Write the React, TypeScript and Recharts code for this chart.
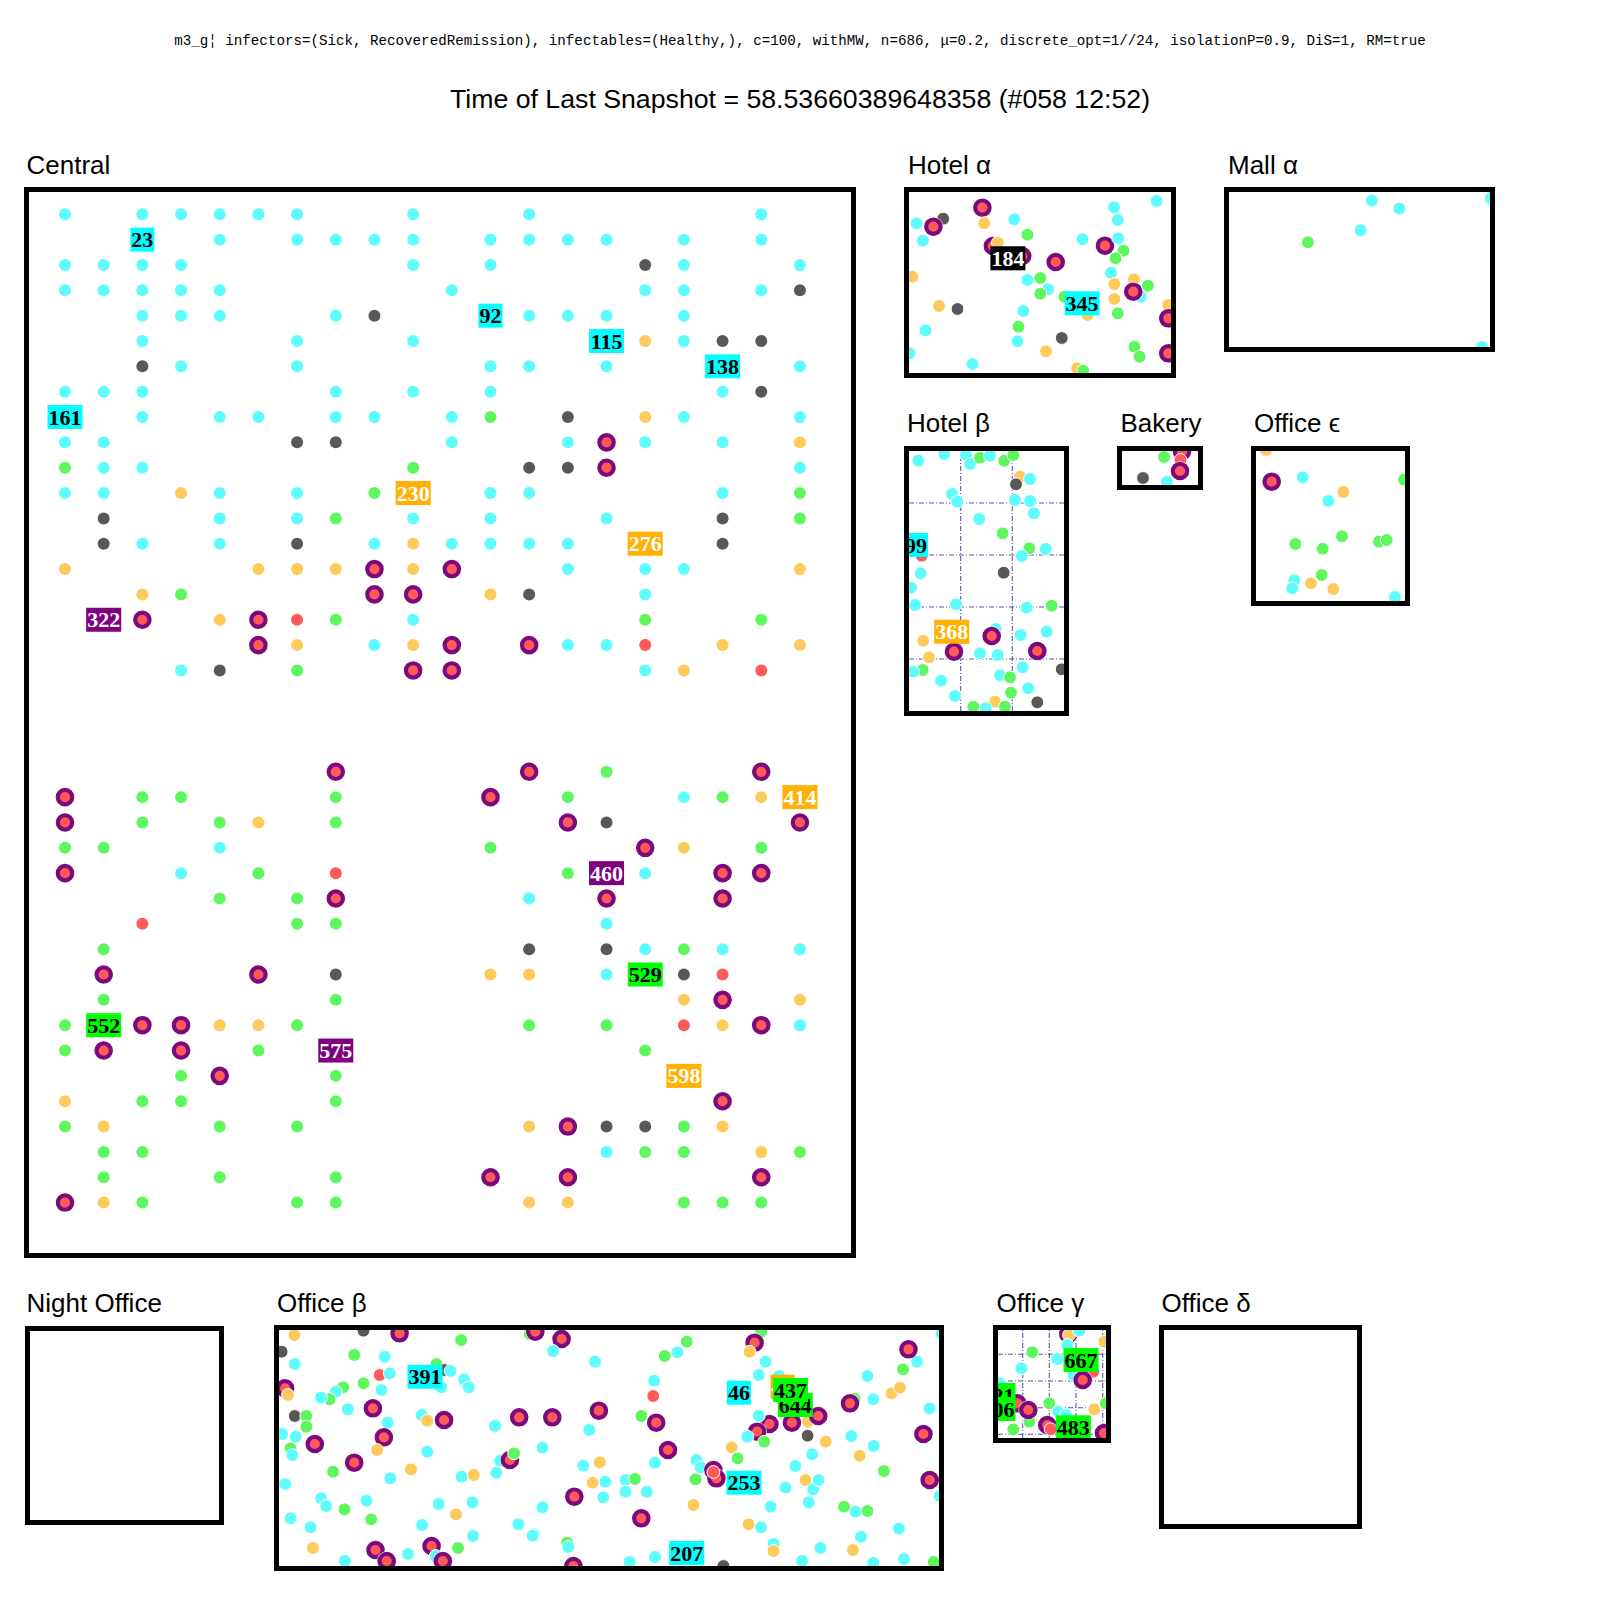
import React from "react";
import { ScatterChart, Scatter, XAxis, YAxis, ReferenceLine } from "recharts";

// ---------- text ----------
const SUBTITLE =
  "m3_g¦ infectors=(Sick, RecoveredRemission), infectables=(Healthy,), c=100, withMW, n=686, μ=0.2, discrete_opt=1//24, isolationP=0.9, DiS=1, RM=true";
const TITLE = "Time of Last Snapshot = 58.53660389648358 (#058 12:52)";

// ---------- Central grid (H healthy, G recovered, O exposed, K dead, R infected, S sick, L label) ----------
const centralRows = [
  "H.HHHHH..H..H.....H.",
  "..L.H.HHHH.HHHH.H.H.",
  "HHHH.....H.H...KH..H",
  "HHHHH.....H....HH.HK",
  "..HHH..HK..LHHH.H...",
  "..H...H..H....LOHKK.",
  "..KH..H....HH.H..L.H",
  "HHH....H.H.H.....HK.",
  "L.H.HH.HH.HG.K.OH..H",
  "HH....KK..H..HSH.H.O",
  "GHH......G..KKS....H",
  "HH.OH.H.GL.HH....H.G",
  ".K..H.HG.H.H..H..K.G",
  ".KH.H.K.HOHHHH.L.K..",
  "O....OOOSOS..H.HH..O",
  "..OG....SS.OK..H....",
  ".LS.OSRG.H.....G..G.",
  ".....SO.HOS.SHHR.O.O",
  "...HK.G..SS....HO.R.",
  "....................",
  "....................",
  "....................",
  ".......S....S.G...S.",
  "S.GG...G...S.G..HGOL",
  "S.G.GO.G.....SK....S",
  "GG..H......G...SO.G.",
  "S..H.G.R.....GLH.SS.",
  "....G.GS....H.S..S..",
  "..R...GG......H.....",
  ".G..........K.KHGH.H",
  ".S...S.K...OO.HLKR..",
  ".G.....G........OS.O",
  "GLSSOOG.....G.G.ROSH",
  "GS.S.G.L.......G....",
  "...GS..G........L...",
  "O.GG...G.........S..",
  "GO..G.G.....OSKKGO..",
  ".GG...........HGG.OG",
  ".G..G..G...S.S....S.",
  "SOG...GG....OO..GGG.",
];
const centralLabels: [number, number, string, string][] = [
  [2, 1, "H", "23"], [11, 4, "H", "92"], [14, 5, "H", "115"], [17, 6, "H", "138"],
  [0, 8, "H", "161"], [9, 11, "O", "230"], [15, 13, "O", "276"], [1, 16, "S", "322"],
  [19, 23, "O", "414"], [14, 26, "S", "460"], [15, 30, "G", "529"], [1, 32, "G", "552"],
  [7, 33, "S", "575"], [16, 34, "O", "598"],
];

// ---------- rooms: [x, y, state] in room coordinates ----------
type P = [number, number, string];
const hotelAlphaPts: P[] = [
  [247.6, 9, "H"], [205.1, 15.3, "H"], [208.8, 28, "H"], [7.5, 31.3, "H"], [34.2, 26.7, "K"],
  [24.4, 34.7, "S"], [13.9, 48.7, "H"], [73.4, 15.7, "S"], [75.2, 31.3, "O"], [105.3, 27.3, "H"],
  [118.5, 42.7, "G"], [83.9, 54, "S"], [88.8, 50.7, "O"], [113.2, 64, "S"], [146.7, 70, "S"],
  [173.5, 47.3, "H"], [196, 53.7, "S"], [209.2, 46.3, "H"], [214.5, 58.7, "G"], [206.6, 66.3, "G"],
  [202, 80.7, "H"], [3.4, 84.7, "O"], [118.5, 88, "H"], [131.3, 86, "G"], [139.2, 97.3, "H"],
  [131.3, 101.7, "G"], [155.4, 104.7, "G"], [178.7, 123, "O"], [225, 87.3, "O"], [205.4, 92, "O"],
  [231.8, 104.7, "H"], [224.3, 99.7, "S"], [238.9, 93.7, "G"], [205.4, 107, "O"], [208.8, 121.3, "G"],
  [259.3, 113, "O"], [259.3, 126.3, "S"], [259.3, 161.3, "S"], [30.1, 114, "O"], [48.5, 117, "K"],
  [114.4, 119, "H"], [16.5, 138.3, "H"], [109.5, 134.7, "G"], [108.4, 149.3, "H"], [152.8, 146, "K"],
  [137, 159.3, "O"], [225.4, 154.7, "G"], [230.6, 164.7, "G"], [0.4, 161.3, "H"], [63.6, 172, "H"],
  [168.2, 176.3, "O"], [174.2, 178.7, "G"],
];
const hotelAlphaLabels: [number, number, string, string][] = [
  [98.9, 66.3, "K", "184"], [173.1, 111.3, "H", "345"],
];
const mallAlphaPts: P[] = [
  [142.8, 8.6, "H"], [170.3, 16.5, "H"], [131.5, 38.2, "H"], [78.9, 50.3, "G"], [262, 6, "H"], [253, 155, "H"],
];
const hotelBetaPts: P[] = [
  [9.3, 9.7, "H"], [35.3, 3, "H"], [57, 4, "H"], [61, 13, "H"], [71, 6.7, "G"], [81, 4.7, "H"],
  [95.3, 9.7, "G"], [104.3, 4, "G"], [111, 25.7, "O"], [107, 33.3, "K"], [121, 28, "H"], [43, 43, "H"],
  [48.3, 50.7, "H"], [106, 49, "H"], [121, 50, "H"], [125, 62.3, "H"], [70.3, 68, "H"], [93.7, 82.3, "G"],
  [12.7, 104.7, "R"], [120.3, 97.3, "G"], [112.7, 105, "H"], [136.7, 98, "H"], [94.7, 121.7, "K"],
  [11.7, 122.3, "H"], [2, 136.7, "H"], [6, 154, "H"], [47, 153.3, "H"], [117.7, 156.7, "H"],
  [142.7, 154.7, "G"], [86.7, 178, "H"], [82.7, 185, "S"], [14.3, 189.7, "O"], [45, 200.7, "S"],
  [71, 202.3, "H"], [88.7, 204, "H"], [111.7, 184, "H"], [137.7, 180.7, "H"], [128.3, 200, "S"],
  [20, 206.3, "O"], [13.7, 219, "G"], [4.3, 220.7, "H"], [152.7, 218.3, "K"], [113.7, 216.3, "H"],
  [91, 224.3, "H"], [101, 226.3, "G"], [32, 229.7, "H"], [46, 245, "H"], [102, 241.7, "G"],
  [119.3, 237.3, "H"], [128.3, 251.3, "K"], [86, 250.7, "O"], [64.3, 255.7, "G"], [76.7, 257.3, "H"],
  [96, 255.7, "G"],
];
const hotelBetaLabels: [number, number, string, string][] = [
  [7, 94, "H", "99"], [42.7, 180.7, "O", "368"],
];
const bakeryPts: P[] = [
  [42, 6, "G"], [60, 0.5, "S"], [58.5, 9, "R"], [58, 20, "S"], [21, 27, "K"], [45, 31, "H"],
];
const officeEpsPts: P[] = [
  [10, -1, "O"], [15.7, 30.7, "S"], [46.7, 26.3, "H"], [87.3, 41, "O"], [72.3, 50, "H"],
  [39.3, 93, "G"], [66.7, 97.7, "G"], [86, 85.3, "G"], [123, 90.7, "G"], [130.7, 89, "G"],
  [148, 28.6, "G"], [38.3, 129.3, "H"], [36.3, 137.3, "H"], [55, 132.3, "O"], [65.7, 124, "G"],
  [77.3, 138, "O"], [139, 146, "H"],
];
const officeBetaPts: P[] = [
  [15.4, 5, "O"], [84.5, 0.7, "K"], [120.6, 3.3, "S"], [182.1, 10, "G"], [250.8, 4, "G"], [256.3, 1.7, "S"],
  [282.6, 9, "S"], [407.7, 11.7, "G"], [398.4, 22.3, "H"], [385.7, 26, "G"], [274.1, 21, "H"],
  [316.1, 31.7, "H"], [2.7, 21.7, "K"], [15.8, 34, "H"], [75.2, 25, "G"], [105.7, 26.7, "H"],
  [157.5, 34, "G"], [165.1, 40, "K"], [171.5, 41, "H"], [100.7, 45, "R"], [110.8, 43.3, "H"],
  [185.1, 49.3, "H"], [189.7, 57.3, "H"], [162.2, 57.3, "H"], [84.5, 53.3, "G"], [102.4, 60, "H"],
  [64.2, 57.3, "G"], [57, 61.7, "H"], [50.6, 69.3, "G"], [42.1, 67.7, "H"], [6.1, 58.3, "S"],
  [9, 65, "O"], [68.9, 79.3, "H"], [93.9, 78.3, "S"], [108.7, 92.7, "H"], [142.6, 85, "H"],
  [148.2, 90.7, "O"], [165.1, 90, "S"], [15.8, 86, "K"], [27.3, 86, "G"], [27.3, 96.7, "G"],
  [3.1, 104, "H"], [16.7, 106.7, "H"], [35.8, 114, "S"], [104.9, 107.3, "S"], [98.1, 120, "O"],
  [148.2, 121.7, "H"], [11.6, 118.3, "G"], [13.3, 125, "H"], [75.2, 132.7, "S"], [54, 141.7, "G"],
  [6.1, 154, "H"], [132, 139.3, "O"], [111.3, 148.3, "H"], [42.1, 168.3, "H"], [47.2, 176, "H"],
  [87.5, 170.7, "H"], [65.5, 179.3, "G"], [92.2, 189.3, "G"], [11.6, 188.3, "H"], [31.5, 197.3, "H"],
  [159.6, 174, "H"], [177, 184.3, "O"], [193.5, 172.3, "H"], [143.1, 195, "H"], [194, 206, "H"],
  [182.5, 146.7, "H"], [194.8, 145, "O"], [221.1, 130.7, "H"], [230.9, 130, "S"], [235.1, 123.3, "G"],
  [216, 96, "H"], [217.3, 142.7, "H"], [240.2, 87.3, "S"], [273.3, 87.3, "S"], [263.5, 117.7, "H"],
  [319.9, 80.7, "S"], [310.2, 100, "H"], [304.2, 135.7, "H"], [320.8, 132.3, "O"], [313.6, 152.7, "O"],
  [326.3, 151.7, "H"], [346.6, 150, "H"], [356, 149, "G"], [346.6, 161.7, "H"], [367.8, 161.7, "H"],
  [324.2, 167.3, "H"], [295.3, 166.7, "S"], [263.5, 177.3, "H"], [239.3, 194.3, "H"], [255, 204.3, "H"],
  [288.1, 212.7, "G"], [362.3, 188.3, "S"], [375.1, 50.7, "H"], [374.2, 66, "R"], [362.3, 86, "G"],
  [377.2, 92.7, "S"], [389, 120, "S"], [375.9, 132.7, "H"], [452.7, 117.3, "O"], [458.6, 128.3, "G"],
  [417.5, 130, "H"], [421.7, 137.3, "H"], [434.4, 140, "S"], [437.4, 148.3, "S"], [434.4, 142, "R"],
  [416.6, 149.3, "G"], [414.5, 175, "O"], [491.7, 176.7, "H"], [469.6, 194.3, "O"], [481.9, 197.3, "H"],
  [516.3, 136, "H"], [506.5, 157.7, "H"], [526.5, 150, "O"], [534.1, 159.3, "H"], [539.6, 150, "H"],
  [529.8, 172.3, "H"], [565, 176.7, "G"], [576.5, 181.7, "H"], [588.4, 181, "G"], [582, 206.7, "H"],
  [580.7, 125.7, "O"], [604.9, 141, "G"], [594.7, 116, "H"], [572.3, 106, "H"], [546.8, 111.7, "O"],
  [533.2, 124.3, "H"], [528.6, 105.7, "K"], [529, 91.7, "O"], [539.2, 86, "S"], [512.9, 92.7, "S"],
  [490.4, 94, "S"], [478.1, 101.7, "S"], [485.3, 111.7, "G"], [468.4, 106.7, "H"], [479.8, 85.7, "H"],
  [479.8, 45, "H"], [500, 46, "H"], [486.6, 31.7, "H"], [482.3, 1.7, "G"], [475.6, 12.7, "S"],
  [470.5, 21.7, "O"], [588.4, 46, "H"], [594.3, 69.3, "H"], [575.6, 68.7, "G"], [571, 73.3, "S"],
  [612.6, 63.3, "O"], [621, 57.7, "O"], [624, 39.3, "G"], [638, 31.7, "H"], [629.5, 19.3, "S"],
  [650.7, 78.3, "H"], [644.4, 104, "S"], [650.7, 150, "S"], [662.8, 3.7, "H"], [660.8, 166, "H"],
  [654.7, 232, "G"], [620, 198.6, "H"], [625, 229, "H"], [96.5, 220, "S"], [107.7, 231, "S"],
  [152.6, 216, "S"], [156.7, 226, "H"], [163.8, 231, "S"], [179, 218, "G"], [65.9, 231, "H"],
  [34, 218, "O"], [129, 224, "H"], [253.6, 205.7, "H"], [289.3, 217, "H"], [294.4, 236, "S"],
  [376, 227, "H"], [350.6, 232, "H"], [494.5, 214, "H"], [494.5, 221, "O"], [444.4, 236, "K"],
  [523, 231, "H"], [541.4, 218, "H"], [574, 220, "O"], [594.4, 233, "H"],
];
const officeBetaLabels: [number, number, string, string][] = [
  [146, 46.7, "H", "391"], [459.9, 62.7, "H", "46"], [503.6, 56.7, "O", "48"], [516.3, 75, "G", "644"],
  [511.6, 60, "G", "437"], [465, 152.7, "H", "253"], [407.7, 223, "H", "207"],
];
const officeGammaPts: P[] = [
  [70.3, 4, "S"], [71, 5, "O"], [81.3, 0.7, "H"], [106.3, 11.7, "O"], [69.3, 15, "H"], [34.3, 22.3, "G"],
  [59.3, 29, "H"], [95.3, 41.7, "R"], [75.3, 45, "H"], [84.7, 50, "S"], [23.3, 38.3, "H"], [2, 53.3, "H"],
  [31.3, 91.7, "G"], [19.3, 73.3, "S"], [30.3, 80, "S"], [51.3, 73.3, "G"], [60.3, 81.7, "H"],
  [68, 85, "H"], [96.3, 79.3, "O"], [107.7, 73.3, "G"], [15.3, 99.3, "G"], [49.3, 95, "S"],
  [52.7, 99.3, "R"], [106, 103, "S"],
];
const officeGammaLabels: [number, number, string, string][] = [
  [83, 30, "G", "667"], [0, 65, "G", "421"], [0, 79, "G", "606"], [75.3, 97.3, "G", "483"],
];

// ---------- styles ----------
const FILL: Record<string, string> = { H: "#5efcfc", G: "#5ef75e", O: "#ffca5c", K: "#585858", R: "#ff5a5a" };
const LBG: Record<string, string> = { H: "#00ffff", G: "#00ff00", O: "#ffb000", S: "#800080", K: "#000000" };
const LFG: Record<string, string> = { H: "#000", G: "#000", O: "#fff", S: "#fff", K: "#fff" };
const SANS = "'Liberation Sans', Arial, Helvetica, sans-serif";

const toPts = (a: P[]) => a.map(([x, y, t]) => ({ x, y, t }));
const toLabels = (a: [number, number, string, string][]) => a.map(([x, y, t, text]) => ({ x, y, t, text }));

const centralPts = centralRows.flatMap((row, r) =>
  row.split("").map((ch, c) => ({ x: c, y: r, t: ch })).filter((p) => p.t !== "." && p.t !== "L")
);
const centralLab = centralLabels.map(([c, r, t, text]) => ({ x: c, y: r, t, text }));

function makeDot(outline: boolean) {
  return (props: any) => {
    const { cx, cy, payload } = props;
    if (cx == null || cy == null) return <g />;
    if (payload.t === "S") {
      return (
        <g>
          {outline && <circle cx={cx} cy={cy} r={9.8} fill="#fff" />}
          <circle cx={cx} cy={cy} r={7.2} fill="#ff5a5a" stroke="#7a0a7e" strokeWidth={4.2} />
        </g>
      );
    }
    return (
      <circle cx={cx} cy={cy} r={outline ? 6.4 : 6} fill={FILL[payload.t]} stroke={outline ? "#fff" : "none"} strokeWidth={outline ? 1 : 0} />
    );
  };
}
const dotPlain = makeDot(false);
const dotOutlined = makeDot(true);

const labelShape = (props: any) => {
  const { cx, cy, payload } = props;
  if (cx == null || cy == null) return <g />;
  const w = payload.text.length * 11 + 2;
  return (
    <g>
      <rect x={cx - w / 2} y={cy - 12} width={w} height={24} fill={LBG[payload.t]} />
      <text x={cx} y={cy + 7.5} textAnchor="middle" fontFamily="'Liberation Serif', 'Times New Roman', serif" fontWeight="bold" fontSize={22} fill={LFG[payload.t]}>
        {payload.text}
      </text>
    </g>
  );
};

type PanelProps = {
  title: string; left: number; top: number; w: number; h: number; titleLeft: number; titleBase: number;
  xDomain: [number, number]; yDomain: [number, number];
  points: any[]; labels: any[]; gridX?: number[]; gridY?: number[]; outlined?: boolean;
};

function Panel(p: PanelProps) {
  const iw = p.w - 10, ih = p.h - 10;
  const gridStyle = { stroke: "#3a3a9a", strokeWidth: 1.1, strokeDasharray: "5 2 1 2", strokeOpacity: 0.85 };
  return (
    <>
      <div style={{ position: "absolute", left: p.titleLeft, top: p.titleBase - 22, fontFamily: SANS, fontSize: 26, lineHeight: "26px", whiteSpace: "nowrap", color: "#000" }}>
        {p.title}
      </div>
      <div style={{ position: "absolute", left: p.left, top: p.top, width: p.w, height: p.h, border: "5px solid #000", boxSizing: "border-box", overflow: "hidden", background: "#fff" }}>
        <ScatterChart width={iw} height={ih} margin={{ top: 0, right: 0, bottom: 0, left: 0 }}>
          <XAxis type="number" dataKey="x" domain={p.xDomain} hide allowDataOverflow />
          <YAxis type="number" dataKey="y" domain={p.yDomain} hide reversed allowDataOverflow />
          {(p.gridX || []).map((v) => (
            <ReferenceLine key={"gx" + v} x={v} {...gridStyle} />
          ))}
          {(p.gridY || []).map((v) => (
            <ReferenceLine key={"gy" + v} y={v} {...gridStyle} />
          ))}
          <Scatter data={p.points} shape={p.outlined ? dotOutlined : dotPlain} isAnimationActive={false} />
          <Scatter data={p.labels} shape={labelShape} isAnimationActive={false} />
        </ScatterChart>
      </div>
    </>
  );
}

export default function App() {
  return (
    <div style={{ position: "absolute", left: 0, top: 0, width: 1600, height: 1600, background: "#fff", overflow: "hidden" }}>
      <div style={{ position: "absolute", left: 0, top: 33.5, width: 1600, textAlign: "center", fontFamily: "'Liberation Mono', 'DejaVu Sans Mono', monospace", fontSize: 14.2, lineHeight: "14px", whiteSpace: "nowrap" }}>
        {SUBTITLE}
      </div>
      <div style={{ position: "absolute", left: 0, top: 85.5, width: 1600, textAlign: "center", fontFamily: SANS, fontSize: 26.7, lineHeight: "27px", whiteSpace: "nowrap" }}>
        {TITLE}
      </div>

      <Panel title="Central" left={24} top={187} w={832} h={1071} titleLeft={26.5} titleBase={174}
        xDomain={[-0.931, 20.32]} yDomain={[-0.88, 40.99]} points={centralPts} labels={centralLab} />
      <Panel title="Hotel α" left={904} top={187} w={272} h={191} titleLeft={908} titleBase={173.5}
        xDomain={[0, 262]} yDomain={[0, 181]} points={toPts(hotelAlphaPts)} labels={toLabels(hotelAlphaLabels)} outlined />
      <Panel title="Mall α" left={1224} top={187} w={271} h={165} titleLeft={1228} titleBase={173.5}
        xDomain={[0, 261]} yDomain={[0, 155]} points={toPts(mallAlphaPts)} labels={[]} outlined />
      <Panel title="Hotel β" left={904} top={446} w={165} h={270} titleLeft={907} titleBase={432}
        xDomain={[0, 155]} yDomain={[0, 260]} points={toPts(hotelBetaPts)} labels={toLabels(hotelBetaLabels)}
        gridX={[51.7, 103.3]} gridY={[52, 104, 156, 208]} outlined />
      <Panel title="Bakery" left={1117} top={446} w={86} h={44} titleLeft={1120.5} titleBase={432}
        xDomain={[0, 76]} yDomain={[0, 34]} points={toPts(bakeryPts)} labels={[]} outlined />
      <Panel title="Office ϵ" left={1251} top={446} w={159} h={160} titleLeft={1254} titleBase={432}
        xDomain={[0, 149]} yDomain={[0, 150]} points={toPts(officeEpsPts)} labels={[]} outlined />
      <Panel title="Night Office" left={25} top={1326} w={199} h={199} titleLeft={26.5} titleBase={1312}
        xDomain={[0, 189]} yDomain={[0, 189]} points={[]} labels={[]} />
      <Panel title="Office β" left={274} top={1325} w={670} h={246} titleLeft={277} titleBase={1312}
        xDomain={[0, 660]} yDomain={[0, 236]} points={toPts(officeBetaPts)} labels={toLabels(officeBetaLabels)} outlined />
      <Panel title="Office γ" left={993} top={1325} w={118} h={118} titleLeft={996.5} titleBase={1312}
        xDomain={[0, 108]} yDomain={[0, 108]} points={toPts(officeGammaPts)} labels={toLabels(officeGammaLabels)}
        gridX={[24.7, 51.3, 78, 104.7]} gridY={[24.3, 51, 77.7, 104.3]} outlined />
      <Panel title="Office δ" left={1159} top={1325} w={203} h={204} titleLeft={1161.5} titleBase={1312}
        xDomain={[0, 193]} yDomain={[0, 194]} points={[]} labels={[]} />
    </div>
  );
}
